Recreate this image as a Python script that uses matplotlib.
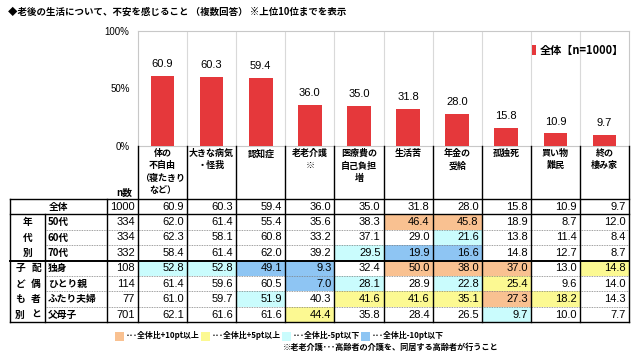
import numpy as np
import matplotlib.pyplot as plt
from matplotlib.patches import Rectangle

plt.rcParams["font.family"] = ["Liberation Sans", "Noto Sans CJK JP", "DejaVu Sans"]

# --- data ---
categories = ["体の\n不自由\n（寝たきり\nなど）", "大きな病気\n・怪我", "認知症", "老老介護\n※",
              "医療費の\n自己負担\n増", "生活苦", "年金の\n受給", "孤独死", "買い物\n難民", "終の\n棲み家"]
overall = [60.9, 60.3, 59.4, 36.0, 35.0, 31.8, 28.0, 15.8, 10.9, 9.7]
overall_n = 1000

row_labels = ["50代", "60代", "70代", "独身", "ひとり親", "ふたり夫婦", "父母子"]
row_n = [334, 334, 332, 108, 114, 77, 701]
row_values = [
    [62.0, 61.4, 55.4, 35.6, 38.3, 46.4, 45.8, 18.9, 8.7, 12.0],
    [62.3, 58.1, 60.8, 33.2, 37.1, 29.0, 21.6, 13.8, 11.4, 8.4],
    [58.4, 61.4, 62.0, 39.2, 29.5, 19.9, 16.6, 14.8, 12.7, 8.7],
    [52.8, 52.8, 49.1, 9.3, 32.4, 50.0, 38.0, 37.0, 13.0, 14.8],
    [61.4, 59.6, 60.5, 7.0, 28.1, 28.9, 22.8, 25.4, 9.6, 14.0],
    [61.0, 59.7, 51.9, 40.3, 41.6, 41.6, 35.1, 27.3, 18.2, 14.3],
    [62.1, 61.6, 61.6, 44.4, 35.8, 28.4, 26.5, 9.7, 10.0, 7.7],
]
group_age = "年代別"
group_family = ("配偶者と", "子ども別")

RED = "#e5383b"
C_UP10, C_UP5, C_DN5, C_DN10 = "#f9c191", "#fcf992", "#cafcfd", "#8ec5f3"
legend_items = [(C_UP10, "･･･全体比+10pt以上"), (C_UP5, "･･･全体比+5pt以上"),
                (C_DN5, "･･･全体比-5pt以下"), (C_DN10, "･･･全体比-10pt以下")]
note = "※老老介護･･･高齢者の介護を、同居する高齢者が行うこと"
title = "◆老後の生活について、不安を感じること （複数回答） ※上位10位までを表示"


def cell_color(v, base):
    d = round(v - base, 1)
    if d >= 10:
        return C_UP10
    if d >= 5:
        return C_UP5
    if d <= -10:
        return C_DN10
    if d <= -5:
        return C_DN5
    return None


W, H = 640, 357
fig = plt.figure(figsize=(W / 100, H / 100), dpi=100)
JP = ["Noto Sans CJK JP", "DejaVu Sans"]

# layout in pixels
x_outer, x_grp, x_lab, x_n, x_end = 10, 45, 107, 138, 629
y_axis_top, y_axis0 = 31, 146
y_top, row_h = 199, 15.4
col_w = (x_end - x_n) / len(overall)

# --- bar chart ---
ax = fig.add_axes([x_n / W, 1 - y_axis0 / H, (x_end - x_n) / W, (y_axis0 - y_axis_top) / H])
x = np.arange(len(overall))
ax.bar(x, overall, width=0.48, color=RED, zorder=3)
for xi, v in zip(x, overall):
    ax.annotate(f"{v:.1f}", (xi, v), xytext=(0, 5), textcoords="offset points",
                ha="center", va="bottom", fontsize=8)
ax.set_xlim(-0.5, len(overall) - 0.5)
ax.set_ylim(0, 100)
ax.set_yticks([0, 50, 100])
ax.set_yticklabels(["0%", "50%", "100%"], fontsize=7)
ax.set_xticks([])
ax.tick_params(axis="y", length=0, pad=6)
for b in np.arange(0.5, len(overall) - 0.5, 1):
    ax.axvline(b, color="#d9d9d9", lw=0.8, zorder=1)
for sp in ax.spines.values():
    sp.set_color("#c8c8c8")
    sp.set_linewidth(0.8)
ax.bar([0], [0], color=RED, label="全体【n=1000】")
ax.legend(loc="upper right", bbox_to_anchor=(1.01, 0.975), frameon=False,
          handlelength=0.4, handleheight=0.9, handletextpad=0.3,
          prop={"weight": "bold", "size": 8, "family": JP})

# --- overlay for table and texts (pixel coords) ---
ov = fig.add_axes([0, 0, 1, 1])
ov.set_xlim(0, W)
ov.set_ylim(H, 0)
ov.axis("off")
ov.patch.set_visible(False)

ov.text(8, 12, title, fontsize=6.8, fontweight="bold", va="center", ha="left", family=JP)

# category labels under the axis
for j, lab in enumerate(categories):
    ov.text(x_n + (j + 0.5) * col_w, y_axis0 + 3, lab, ha="center", va="top", fontsize=6.5,
            fontweight="bold", linespacing=1.45, family=JP)
ov.text(x_n - 6, 193, "n数", ha="right", va="center", fontsize=7, fontweight="bold", family=JP)


def row_y(i):
    return y_top + (i + 0.5) * row_h


# coloured cells
for i, vals in enumerate(row_values):
    for j, v in enumerate(vals):
        c = cell_color(v, overall[j])
        if c:
            ov.add_patch(Rectangle((x_n + j * col_w, y_top + (i + 1) * row_h), col_w, row_h,
                                   facecolor=c, edgecolor="none", zorder=1))

# numbers
num_kw = dict(ha="right", va="center", fontsize=8, zorder=3)
ov.text(x_n - 3, row_y(0), f"{overall_n}", **num_kw)
for j, v in enumerate(overall):
    ov.text(x_n + (j + 1) * col_w - 3, row_y(0), f"{v:.1f}", **num_kw)
for i, (n, vals) in enumerate(zip(row_n, row_values)):
    ov.text(x_n - 3, row_y(i + 1), f"{n}", **num_kw)
    for j, v in enumerate(vals):
        ov.text(x_n + (j + 1) * col_w - 3, row_y(i + 1), f"{v:.1f}", **num_kw)

# row labels
jp = dict(fontsize=7, fontweight="bold", va="center", family=JP, zorder=3)
ov.text((x_outer + x_lab) / 2, row_y(0), "全体", ha="center", **jp)
for i, lab in enumerate(row_labels):
    ov.text(x_grp + 3, row_y(i + 1), lab, ha="left", **jp)
for k, ch in enumerate(group_age):
    ov.text((x_outer + x_grp) / 2, row_y(k + 1), ch, ha="center", **jp)
for k, ch in enumerate(group_family[0]):
    ov.text(36, row_y(k + 4), ch, ha="center", **jp)
for k, ch in enumerate(group_family[1]):
    ov.text(20, row_y(k + 4), ch, ha="center", **jp)

# grid lines
y_bot = y_top + 8 * row_h
lk = dict(color="black", zorder=4)
for yy, lw in [(y_top, 1.0), (y_top + row_h, 1.0), (y_top + 4 * row_h, 1.4), (y_bot, 1.0)]:
    ov.plot([x_outer, x_end], [yy, yy], lw=lw, **lk)
for r in [2, 3, 5, 6, 7]:
    yy = y_top + r * row_h
    ov.plot([x_grp, x_end], [yy, yy], lw=0.6, color="#7f7f7f", ls=(0, (1, 1)), zorder=4)
ov.plot([x_outer, x_outer], [y_top, y_bot], lw=1.0, **lk)
ov.plot([x_grp, x_grp], [y_top + row_h, y_bot], lw=1.0, **lk)
ov.plot([x_lab, x_lab], [y_top, y_bot], lw=1.0, **lk)
for j in range(len(overall) + 1):
    xx = x_n + j * col_w
    ov.plot([xx, xx], [y_axis0, y_bot], lw=1.0, **lk)

# colour legend, laid out left to right from measured text widths
fig.canvas.draw()
r = fig.canvas.get_renderer()
lx = 115
for c, t in legend_items:
    ov.add_patch(Rectangle((lx, 331.5), 9, 9, facecolor=c, edgecolor="none"))
    txt = ov.text(lx + 11, 336, t, ha="left", va="center", fontsize=5.7, fontweight="bold", family=JP)
    lx += 11 + txt.get_window_extent(r).width + 1
ov.text(498, 347.5, note, ha="right", va="center", fontsize=5.9, fontweight="bold", family=JP)

fig.savefig("out.png", dpi=100)
